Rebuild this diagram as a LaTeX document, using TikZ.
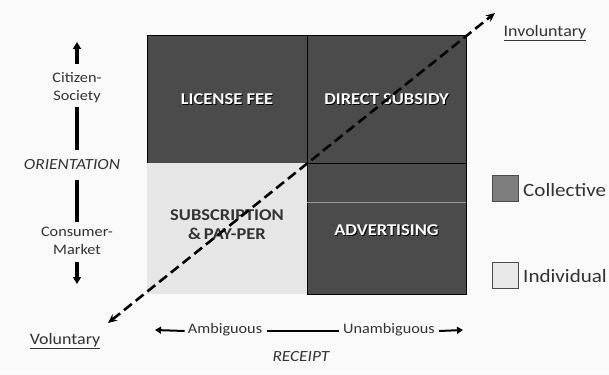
\documentclass[tikz,border=0pt]{standalone}
\usepackage{fontspec}
\setmainfont{Carlito}[FakeStretch=1.12]
\usetikzlibrary{arrows.meta,positioning}
\definecolor{bgcol}{HTML}{FAFAFA}
\definecolor{darkcell}{HTML}{4B4B4B}
\definecolor{lightcell}{HTML}{E6E6E6}
\definecolor{legdark}{HTML}{7E7E7E}
\definecolor{leglight}{HTML}{E9E9E9}
\definecolor{txtgray}{HTML}{333333}
\tikzset{
  darkbox/.style={fill=darkcell, draw=black, line width=0.8pt, inner sep=0pt},
  lightbox/.style={fill=lightcell, draw=none, inner sep=0pt},
  cellfont/.style={font=\fontsize{16.5}{19}\selectfont\bfseries, align=center},
  celltext/.style={cellfont, text=white},
  cellshadow/.style={cellfont, text=black},
  celltextdark/.style={cellfont, text=black!80},
  axislabel/.style={text=txtgray, font=\fontsize{14.5}{18}\selectfont, align=center, inner sep=1pt},
  axisitalic/.style={text=txtgray, font=\fontsize{15.5}{17}\selectfont\itshape, inner sep=1pt},
  endlabel/.style={text=txtgray, font=\fontsize{16}{18}\selectfont},
  axisline/.style={line width=3.4pt, black},
  axisarrow/.style={line width=3.4pt, black, -{Triangle[length=7pt,width=8pt]}},
  botarrow/.style={line width=2pt, black, -{Triangle[length=6pt,width=7pt]}},
  diag/.style={line width=2.6pt, black, dash pattern=on 10pt off 5pt, {Stealth[length=9pt,width=8pt]}-{Stealth[length=9pt,width=8pt]}},
  legbox/.style={draw=black!70, line width=0.8pt, minimum width=26pt, minimum height=26pt, inner sep=0pt},
  legtext/.style={text=txtgray, font=\fontsize{18.8}{22}\selectfont, anchor=west, inner sep=0pt}
}
\begin{document}
\begin{tikzpicture}[x=1pt,y=-1pt]
\fill[bgcol] (0,0) rectangle (609,374);
\useasboundingbox (0,0) rectangle (609,374);

% cells
\node[darkbox, minimum width=160pt, minimum height=128pt] (lf) at (227,99) {};
\node[darkbox, minimum width=159pt, minimum height=128pt] (ds) at (386.5,99) {};
\node[lightbox, minimum width=160pt, minimum height=131pt] (sp) at (227,228.5) {};
\node[darkbox, minimum width=159pt, minimum height=131pt] (ad) at (386.5,228.5) {};
\draw[black!40, line width=0.8pt] (ad.west |- 0,202) -- (ad.east |- 0,202);

\node[cellshadow] at ([xshift=0.9pt,yshift=-0.9pt]lf.center) {LICENSE FEE};
\node[celltext] (lft) at (lf.center) {LICENSE FEE};
\node[cellshadow] at ([xshift=0.9pt,yshift=-0.9pt]ds.center) {DIRECT SUBSIDY};
\node[celltext] (dst) at (ds.center) {DIRECT SUBSIDY};
\node[celltextdark] (spt) at (227,225) {SUBSCRIPTION\\\&\,PAY-PER};
\node[cellshadow] at (387.4,230.9) {ADVERTISING};
\node[celltext] (adt) at (386.5,230) {ADVERTISING};

% diagonal
\coordinate (vtip) at (108,323);
\coordinate (itip) at (495,13);
\draw[diag] (vtip) -- (itip);
\node[endlabel] (vol) at (65,341) {\underline{Voluntary}};
\node[endlabel] (invol) at (545,33) {\underline{Involuntary}};

% orientation axis
\node[axislabel] (cit) at (77,88) {Citizen-\\Society};
\node[axisitalic] (ori) at (72,165) {ORIENTATION};
\node[axislabel] (con) at (77,241) {Consumer-\\Market};
\coordinate (otop) at (77,42);
\coordinate (obot) at (77,284);
\draw[axisarrow] (77,64) -- (otop);
\draw[axisline] (77,107) -- (77,150);
\draw[axisline] (77,180) -- (77,222);
\draw[axisarrow] (77,262) -- (obot);

% receipt axis
\node[axislabel] (amb) at (225,330) {Ambiguous};
\node[axislabel] (unamb) at (389,330) {Unambiguous};
\node[axisitalic] (rec) at (301,357) {RECEIPT};
\coordinate (rl) at (155,330);
\coordinate (rr) at (463,330);
\draw[botarrow] ([xshift=-2pt,yshift=-1pt]amb.west) -- (rl);
\draw[black, line width=2pt] ([xshift=4pt,yshift=-1pt]amb.east) -- ([xshift=-3pt,yshift=-1pt]unamb.west);
\draw[botarrow] ([xshift=3pt,yshift=-1pt]unamb.east) -- (rr);

% legend
\node[legbox, fill=legdark] (lc) at (505,188.5) {};
\node[legtext] at (523,190) {Collective};
\node[legbox, fill=leglight] (li) at (505,275) {};
\node[legtext] at (523,276.5) {Individual};
\end{tikzpicture}
\end{document}
